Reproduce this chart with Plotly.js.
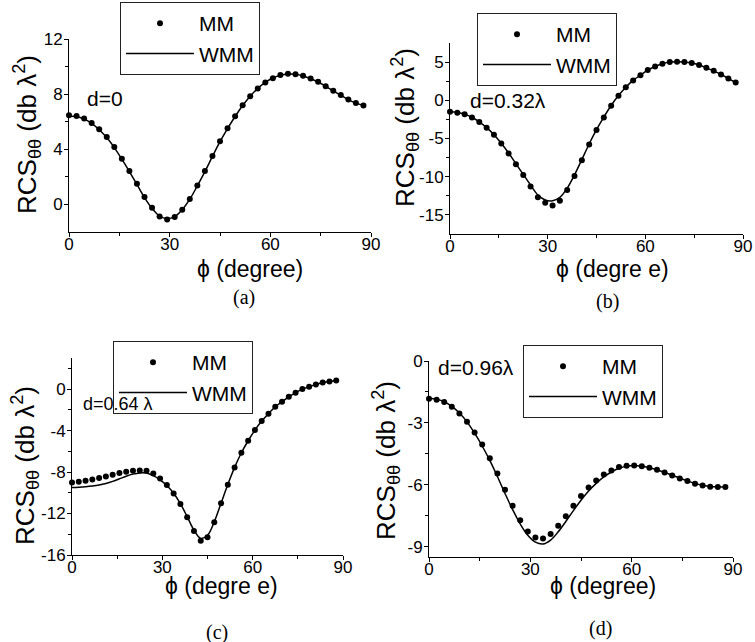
<!DOCTYPE html>
<html>
<head>
<meta charset="utf-8">
<script src="https://cdn.plot.ly/plotly-3.0.1.min.js"></script>
<style>html,body{margin:0;padding:0;background:#fff;}#chart{width:755px;height:642px;}</style>
</head>
<body>
<div id="chart"></div>
<script>
// ---- data ----
const phi = [0,2.25,4.5,6.75,9,11.25,13.5,15.75,18,20.25,22.5,24.75,27,29.25,31.5,33.75,36,38.25,40.5,42.75,45,47.25,49.5,51.75,54,56.25,58.5,60.75,63,65.25,67.5,69.75,72,74.25,76.5,78.75,81,83.25,85.5,87.75];

const mmA  = [6.47,6.42,6.23,5.9,5.45,4.9,4.17,3.32,2.42,1.5,0.53,-0.24,-0.87,-1.09,-0.92,-0.39,0.39,1.38,2.42,3.52,4.58,5.53,6.4,7.2,7.85,8.41,8.85,9.16,9.38,9.48,9.45,9.33,9.14,8.9,8.58,8.24,7.93,7.61,7.35,7.18];
const wmmA = [6.4,6.38,6.2,5.88,5.42,4.85,4.12,3.28,2.38,1.45,0.5,-0.28,-0.85,-1.02,-0.88,-0.38,0.38,1.35,2.38,3.48,4.55,5.5,6.38,7.18,7.85,8.42,8.86,9.17,9.38,9.46,9.44,9.32,9.12,8.88,8.57,8.23,7.92,7.6,7.35,7.18];

const mmB  = [-1.49,-1.62,-1.84,-2.24,-2.85,-3.6,-4.52,-5.66,-6.97,-8.38,-9.78,-11.27,-12.68,-13.42,-13.77,-13.16,-11.75,-9.91,-7.85,-5.79,-3.9,-2.24,-0.7,0.61,1.71,2.59,3.29,3.95,4.43,4.78,5.0,5.04,5.0,4.87,4.61,4.25,3.86,3.38,2.85,2.32];
const wmmB = [-1.5,-1.6,-1.82,-2.22,-2.82,-3.58,-4.5,-5.62,-6.9,-8.3,-9.7,-11.1,-12.4,-13.05,-13.15,-12.7,-11.5,-9.75,-7.75,-5.72,-3.85,-2.2,-0.68,0.62,1.72,2.6,3.3,3.95,4.43,4.78,5.0,5.04,5.0,4.87,4.61,4.25,3.86,3.38,2.85,2.32];

const mmC  = [-9.0,-8.93,-8.84,-8.71,-8.58,-8.42,-8.26,-8.1,-7.97,-7.87,-7.84,-7.87,-8.13,-8.61,-9.25,-10.06,-11.08,-12.37,-13.69,-14.62,-14.3,-12.85,-11.02,-9.22,-7.55,-6.14,-4.98,-3.95,-3.08,-2.38,-1.7,-1.22,-0.74,-0.35,0.0,0.22,0.45,0.64,0.74,0.84];
const wmmC = [-9.5,-9.47,-9.42,-9.35,-9.25,-9.1,-8.9,-8.65,-8.4,-8.2,-8.08,-8.1,-8.35,-8.75,-9.3,-10.05,-11.05,-12.3,-13.6,-14.4,-14.1,-12.8,-11.0,-9.2,-7.55,-6.14,-4.98,-3.95,-3.08,-2.38,-1.7,-1.22,-0.74,-0.35,0.0,0.22,0.45,0.64,0.74,0.84];

const mmD  = [-1.83,-1.88,-1.99,-2.22,-2.54,-2.94,-3.47,-4.05,-4.71,-5.45,-6.24,-7.01,-7.72,-8.26,-8.55,-8.6,-8.38,-7.99,-7.52,-7.01,-6.54,-6.13,-5.79,-5.5,-5.31,-5.14,-5.08,-5.06,-5.1,-5.18,-5.27,-5.4,-5.55,-5.69,-5.82,-5.95,-6.03,-6.09,-6.11,-6.11];
const wmmD = [-1.8,-1.85,-1.97,-2.2,-2.52,-2.95,-3.5,-4.12,-4.82,-5.6,-6.42,-7.2,-7.9,-8.45,-8.78,-8.87,-8.68,-8.28,-7.78,-7.25,-6.75,-6.3,-5.93,-5.62,-5.38,-5.2,-5.1,-5.07,-5.1,-5.17,-5.27,-5.4,-5.54,-5.68,-5.81,-5.93,-6.02,-6.08,-6.1,-6.1];

const xTickVals = [0,30,60,90];
const xMinorVals = [15,45,75];
const yTickA = [0,4,8,12],        yTextA = ['0','4','8','12'],          yMinorA = [2,6,10];
const yTickB = [-15,-10,-5,0,5],  yTextB = ['-15','-10','-5','0','5'], yMinorB = [-12.5,-7.5,-2.5,2.5];
const yTickC = [-16,-12,-8,-4,0], yTextC = ['-16','-12','-8','-4','0'], yMinorC = [-14,-10,-6,-2,2];
const yTickD = [-9,-6,-3,0],      yTextD = ['-9','-6','-3','0'],       yMinorD = [-7.5,-4.5,-1.5];

const seriesNames = ['MM','WMM'];
const yTitle = 'RCS<sub>θθ</sub> (db λ<sup>2</sup>)';
const xTitles = ['ϕ (degree)','ϕ (degre e)','ϕ (degre e)','ϕ (degree)'];
const panelLabels = ['(a)','(b)','(c)','(d)'];
const dLabels = ['d=0','d=0.32λ','d=0.64 λ','d=0.96λ'];

// ---- layout helpers ----
const W = 755, H = 642;
const px = p => p / W;
const py = p => 1 - p / H;
const SANS = 'Liberation Sans, Arial, sans-serif';
const SERIF = 'Liberation Serif, Times New Roman, serif';

const panels = [
  {mm: mmA, wmm: wmmA, xs: 'x',  ys: 'y',  leg: 'legend',  xd: [69,371],  yd: [232,39],  yr: [-2,12],     tv: yTickA, tt: yTextA, mv: yMinorA,
   legPos: [120,2], dPos: [85,99], dSize: 21, xt: [250,269], yt: [27,135], pl: [244,297]},
  {mm: mmB, wmm: wmmB, xs: 'x2', ys: 'y2', leg: 'legend2', xd: [450,743], yd: [234,43],  yr: [-17.5,7.5], tv: yTickB, tt: yTextB, mv: yMinorB,
   legPos: [477,13], dPos: [468,100], dSize: 21, xt: [612,269], yt: [405,128], pl: [607,302]},
  {mm: mmC, wmm: wmmC, xs: 'x3', ys: 'y3', leg: 'legend3', xd: [72,343],  yd: [555,358], yr: [-16,3],     tv: yTickC, tt: yTextC, mv: yMinorC,
   legPos: [113,341], dPos: [81,404], dSize: 18, xt: [222,586], yt: [25,466], pl: [217,632]},
  {mm: mmD, wmm: wmmD, xs: 'x4', ys: 'y4', leg: 'legend4', xd: [429,733], yd: [557,361], yr: [-9.5,0],    tv: yTickD, tt: yTextD, mv: yMinorD,
   legPos: [523,345], dPos: [436,368], dSize: 21, xt: [603,586], yt: [386,461], pl: [600,628]}
];

const traces = [];
const layout = {
  width: W, height: H,
  margin: {l:0, r:0, t:0, b:0},
  paper_bgcolor: 'white', plot_bgcolor: 'white',
  showlegend: true,
  annotations: [],
  font: {family: SANS, color: 'black'}
};

panels.forEach((p, i) => {
  traces.push({
    x: phi, y: p.mm, type: 'scatter', mode: 'markers', name: seriesNames[0],
    marker: {color: 'black', size: 6}, xaxis: p.xs, yaxis: p.ys, legend: p.leg, cliponaxis: false
  });
  traces.push({
    x: phi, y: p.wmm, type: 'scatter', mode: 'lines', name: seriesNames[1],
    line: {color: 'black', width: 1.5, shape: 'spline'}, xaxis: p.xs, yaxis: p.ys, legend: p.leg
  });
  const xk = i === 0 ? 'xaxis' : 'xaxis' + (i + 1);
  const yk = i === 0 ? 'yaxis' : 'yaxis' + (i + 1);
  layout[xk] = {
    domain: [px(p.xd[0]), px(p.xd[1])], anchor: p.ys, range: [0, 90],
    tickmode: 'array', tickvals: xTickVals, ticks: 'outside', ticklen: 4, tickwidth: 1, tickcolor: 'black',
    ticklabelstandoff: -7,
    minor: {tickmode: 'array', tickvals: xMinorVals, ticks: 'outside', ticklen: 3, tickcolor: 'black'},
    showline: true, linecolor: 'black', linewidth: 1, showgrid: false, zeroline: false,
    tickfont: {family: SANS, size: 17, color: 'black'}, fixedrange: true
  };
  layout[yk] = {
    domain: [py(p.yd[0]), py(p.yd[1])], anchor: p.xs, range: p.yr,
    tickmode: 'array', tickvals: p.tv, ticktext: p.tt, ticks: 'outside', ticklen: 4, tickwidth: 1, tickcolor: 'black',
    ticklabelstandoff: -2,
    minor: {tickmode: 'array', tickvals: p.mv, ticks: 'outside', ticklen: 3, tickcolor: 'black'},
    showline: true, linecolor: 'black', linewidth: 1, showgrid: false, zeroline: false,
    tickfont: {family: SANS, size: 17, color: 'black'}, fixedrange: true
  };
  layout[p.leg] = {
    x: px(p.legPos[0]), y: py(p.legPos[1]), xanchor: 'left', yanchor: 'top',
    xref: 'paper', yref: 'paper',
    bgcolor: 'white', bordercolor: '#222', borderwidth: 1,
    font: {family: SANS, size: 21, color: 'black'},
    itemwidth: 68, tracegroupgap: 0, traceorder: 'normal'
  };
  layout.annotations.push(
    {xref: 'paper', yref: 'paper', x: px(p.dPos[0]), y: py(p.dPos[1]), xanchor: 'left', yanchor: 'middle',
     text: dLabels[i], showarrow: false, font: {family: SANS, size: p.dSize, color: 'black'}},
    {xref: 'paper', yref: 'paper', x: px(p.xt[0]), y: py(p.xt[1]), xanchor: 'center', yanchor: 'middle',
     text: xTitles[i], showarrow: false, font: {family: SANS, size: 23, color: 'black'}},
    {xref: 'paper', yref: 'paper', x: px(p.yt[0]), y: py(p.yt[1]), xanchor: 'center', yanchor: 'middle',
     text: yTitle, textangle: -90, showarrow: false, font: {family: SANS, size: 26, color: 'black'}},
    {xref: 'paper', yref: 'paper', x: px(p.pl[0]), y: py(p.pl[1]), xanchor: 'center', yanchor: 'middle',
     text: panelLabels[i], showarrow: false, font: {family: SERIF, size: 20, color: 'black'}}
  );
});

Plotly.newPlot('chart', traces, layout, {displayModeBar: false, staticPlot: true});
</script>
</body>
</html>
